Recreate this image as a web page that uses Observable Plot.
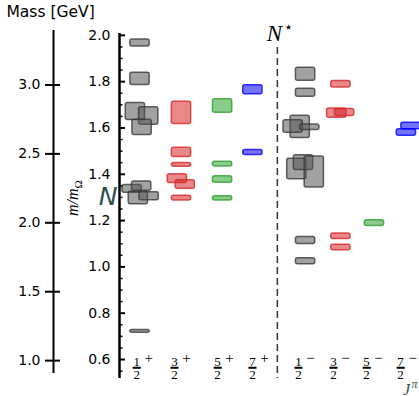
<!DOCTYPE html>
<html><head><meta charset="utf-8">
<script src="https://cdn.jsdelivr.net/npm/d3@7"></script>
<script src="https://cdn.jsdelivr.net/npm/@observablehq/plot@0.6"></script>
<style>body{margin:0;background:#fff;}</style>
</head><body><div id="chart"></div>
<script>
// Columns (J^P), box-column positions and tick-label positions (in column units)
const columns = ["1/2+","3/2+","5/2+","7/2+","1/2-","3/2-","5/2-","7/2-"];
const columnPos = [0, 1.0, 1.99, 2.72, 3.99, 4.84, 5.65, 6.47];
const labelPos = [-0.08, 0.83, 1.87, 2.71, 3.82, 4.66, 5.46, 6.28];
const numerators = ["1","3","5","7","1","3","5","7"];
const parities = ["+","+","+","+","\u2212","\u2212","\u2212","\u2212"];
const separatorPos = 3.31;

// States: column index, small horizontal offset, m/m_Omega, uncertainty
const stateColumn = [0,0,0,0,0,0,0,0,0,0, 1,1,1,1,1,1, 2,2,2,2, 3,3,
                     4,4,4,4,4,4,4,4,4,4, 5,5,5,5,5, 6, 7,7];
const stateOffset = [0,0,-0.11,0.21,0.05,-0.19,0.04,-0.04,0.22,0,
                     0,0,0,-0.10,0.09,0,
                     0,0,0,0,
                     0,0,
                     0,0,-0.13,-0.30,0.10,-0.21,-0.05,0.21,0,0,
                     0,-0.10,0.09,0,0,
                     0,
                     0.06,-0.05];
const stateMass = [1.967,1.812,1.671,1.652,1.603,1.337,1.349,1.298,1.305,0.722,
                   1.665,1.495,1.441,1.381,1.356,1.297,
                   1.695,1.444,1.377,1.296,
                   1.765,1.494,
                   1.832,1.752,1.605,1.606,1.603,1.423,1.450,1.410,1.114,1.024,
                   1.789,1.664,1.667,1.132,1.084,
                   1.189,
                   1.609,1.580];
const stateError = [0.015,0.026,0.037,0.038,0.033,0.017,0.020,0.027,0.017,0.006,
                    0.048,0.020,0.008,0.019,0.018,0.010,
                    0.029,0.010,0.014,0.009,
                    0.019,0.011,
                    0.028,0.017,0.048,0.027,0.012,0.044,0.032,0.067,0.015,0.013,
                    0.014,0.020,0.015,0.012,0.012,
                    0.012,
                    0.014,0.014];

const spinFill = ["#555555","#d62728","#2ca02c","#0000ff"];
const spinStroke = ["#3a3a3a","#d62728","#2ca02c","#0000ff"];

const mOmega = 1.68;
const massTicks = [1.0, 1.5, 2.0, 2.5, 3.0];
const majorTicks = [0.6, 0.8, 1.0, 1.2, 1.4, 1.6, 1.8, 2.0];
const minorTicks = d3.range(11, 41).map(i => i * 0.05).filter(v => Math.abs(Math.round(v * 5) - v * 5) > 1e-6);

const xmin = -0.494, xmax = 6.735;
const halfWidth = 0.2325;

const cols = columns.map((c, i) => ({c, pos: labelPos[i], num: numerators[i], par: parities[i]}));
const states = stateMass.map((m, i) => {
  const ci = stateColumn[i];
  const spin = ci % 4;
  const x = columnPos[ci] + stateOffset[i];
  return {x1: x - halfWidth, x2: x + halfWidth, y1: m - stateError[i], y2: m + stateError[i],
          fill: spinFill[spin], stroke: spinStroke[spin]};
});

const serif = "'Liberation Serif', 'DejaVu Serif', serif";
const slate = "#2f4f4f";
const mid = {lineAnchor: "middle"};

const chart = Plot.plot({
  width: 419, height: 396,
  marginTop: 33, marginBottom: 18, marginLeft: 119, marginRight: 0,
  x: {domain: [xmin, xmax], axis: null},
  y: {domain: [0.518, 2.008], label: null},
  color: {type: "identity"},
  style: {fontFamily: "'DejaVu Sans', sans-serif", fontSize: "14px", color: "black", background: "white", overflow: "visible"},
  marks: [
    Plot.ruleX([separatorPos], {stroke: "#333", strokeWidth: 1.5, strokeDasharray: "7,4", insetTop: 14}),
    Plot.rect(states, {x1: "x1", x2: "x2", y1: "y1", y2: "y2", fill: "fill", fillOpacity: 0.55,
                       stroke: "stroke", strokeOpacity: 0.8, strokeWidth: 1.5, rx: 2}),
    // inner m/m_Omega axis
    Plot.ruleX([xmin], {strokeWidth: 2.5}),
    Plot.axisY(majorTicks, {anchor: "left", tickSize: 6, dx: 6, tickPadding: 9, strokeWidth: 2,
                            tickFormat: d => d.toFixed(1), fontSize: 14}),
    Plot.axisY(minorTicks, {anchor: "left", tickSize: 3.5, dx: 3.5, strokeWidth: 1.5, tickFormat: () => ""}),
    // outer mass axis
    Plot.ruleX([xmin], {dx: -66, insetTop: -3, insetBottom: 5, strokeWidth: 2}),
    Plot.axisY(massTicks.map(m => m / mOmega), {anchor: "left", tickSize: 15, dx: -59, tickPadding: 5, strokeWidth: 2,
                            tickFormat: d => (d * mOmega).toFixed(1), fontSize: 14}),
    Plot.text(["Mass [GeV]"], {frameAnchor: "top-left", dx: -113, dy: -21, textAnchor: "start", ...mid, fontSize: 15.5}),
    Plot.text(["m/m\u03a9"], {frameAnchor: "left", dx: -47, dy: -8, rotate: -90, textAnchor: "middle", ...mid,
                              fontFamily: serif, fontStyle: "italic", fontSize: 16}),
    Plot.text(["N"], {frameAnchor: "left", dx: -2, dy: -9, textAnchor: "end", ...mid, fontSize: 25, fontStyle: "italic", fill: slate}),
    // N* label
    Plot.text(["N"], {x: () => separatorPos, frameAnchor: "top", dx: -3, dy: 0, ...mid, fontFamily: serif, fontStyle: "italic", fontSize: 23}),
    Plot.text(["\u22c6"], {x: () => separatorPos, frameAnchor: "top", dx: 11, dy: -6, ...mid, fontSize: 15}),
    // column labels
    Plot.text(cols, {x: "pos", text: "num", frameAnchor: "bottom", ...mid, dy: -17, fontFamily: serif, fontSize: 13}),
    Plot.text(cols, {x: "pos", text: () => "\u2501", frameAnchor: "bottom", ...mid, dy: -11, fontFamily: "'DejaVu Sans Mono', monospace", fontSize: 13}),
    Plot.text(cols, {x: "pos", text: () => "2", frameAnchor: "bottom", ...mid, dy: -4, fontFamily: serif, fontSize: 13}),
    Plot.text(cols, {x: "pos", text: "par", frameAnchor: "bottom", ...mid, dx: 12, dy: -20, fontFamily: serif, fontSize: 15}),
    // J^pi
    Plot.text(["J"], {frameAnchor: "bottom-right", textAnchor: "middle", ...mid, dx: -13, dy: 11, fontFamily: serif, fontStyle: "italic", fontSize: 16, fill: slate}),
    Plot.text(["\u03c0"], {frameAnchor: "bottom-right", textAnchor: "middle", ...mid, dx: -5, dy: 6, fontFamily: serif, fontStyle: "italic", fontSize: 12, fill: slate})
  ]
});
document.getElementById("chart").appendChild(chart);

// subscript Omega in the y label
d3.select(chart).selectAll("text").filter(function() { return this.textContent === "m/m\u03a9"; })
  .each(function() {
    const t = d3.select(this);
    t.text("");
    t.append("tspan").text("m/m");
    t.append("tspan").attr("dy", "0.35em").attr("font-size", "0.7em").attr("font-style", "normal").text("\u03a9");
  });
</script>
</body></html>
